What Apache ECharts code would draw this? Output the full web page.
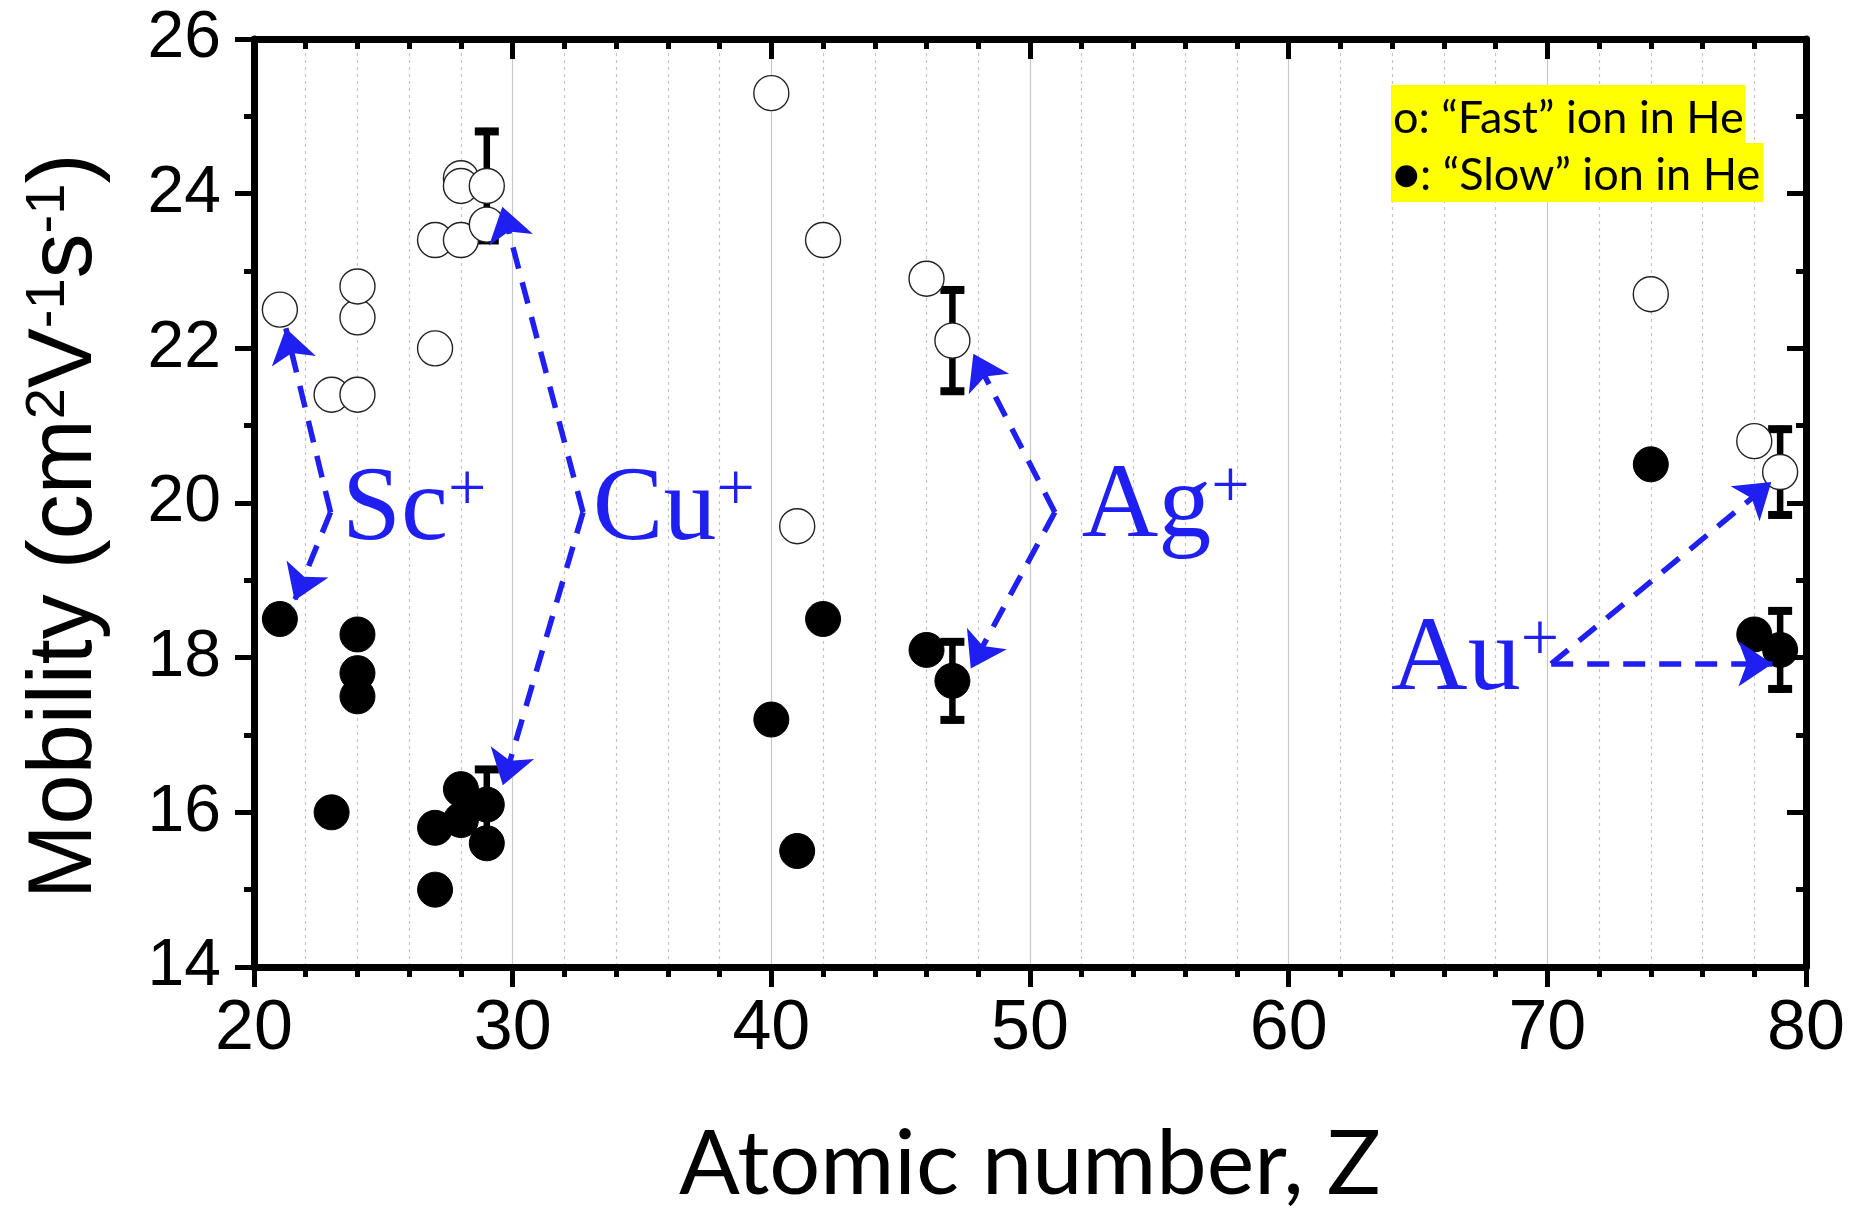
<!DOCTYPE html>
<html><head><meta charset="utf-8">
<script src="https://cdn.jsdelivr.net/npm/echarts@6/dist/echarts.min.js"></script>
<style>html,body{margin:0;padding:0;background:#fff}#c{width:1861px;height:1211px}</style>
</head><body><div id="c"></div>
<script>
// ---- data ----
const xTickValues = [20, 30, 40, 50, 60, 70, 80];
const yTickValues = [14, 16, 18, 20, 22, 24, 26];

// "Fast" ions (open circles)
const fastZ        = [21, 23, 24, 24, 24, 27, 27, 28, 28, 28, 29, 29, 40, 41, 42, 46, 47, 74, 78, 79];
const fastMobility = [22.5, 21.4, 21.4, 22.4, 22.8, 23.4, 22.0, 23.4, 24.2, 24.1, 23.6, 24.1, 25.3, 19.7, 23.4, 22.9, 22.1, 22.7, 20.8, 20.4];

// "Slow" ions (filled circles)
const slowZ        = [21, 23, 24, 24, 24, 27, 27, 28, 28, 29, 29, 40, 41, 42, 46, 47, 74, 78, 79];
const slowMobility = [18.5, 16.0, 18.3, 17.8, 17.5, 15.8, 15.0, 16.3, 15.9, 16.1, 15.6, 17.2, 15.5, 18.5, 18.1, 17.7, 20.5, 18.3, 18.1];

// error bars
const errZ      = [29, 47, 79, 29, 47, 79];
const errCenter = [24.1, 22.1, 20.4, 16.1, 17.7, 18.1];
const errHalf   = [0.75, 0.7, 0.6, 0.5, 0.55, 0.55];

// ion annotations
const ionLabels   = ['Sc', 'Cu', 'Ag', 'Au'];
const ionLabelZ   = [23.40, 33.10, 52.00, 63.96];
const ionLabelMob = [19.90, 19.90, 19.93, 17.95];
const arrowFrom = [[22.96, 19.88], [22.96, 19.88], [32.72, 19.88], [32.72, 19.88], [50.96, 19.88], [50.96, 19.88], [70.15, 17.92], [70.15, 17.92]];
const arrowTo   = [[21.23, 22.26], [21.57, 18.74], [29.60, 23.83], [29.62, 16.35], [47.81, 21.93], [47.71, 17.86], [78.66, 20.27], [78.70, 17.92]];

// ---- chart ----
const BLUE = '#1f1ff2';
const chart = echarts.init(document.getElementById('c'), null, {renderer: 'canvas'});

const xBase = {
  type: 'value', min: xTickValues[0], max: xTickValues[xTickValues.length - 1], interval: 10,
  axisLine: {show: true, onZero: false, lineStyle: {color: '#000', width: 7}},
  minorTick: {show: true, splitNumber: 5, length: 10, lineStyle: {color: '#000', width: 5}}
};
const yBase = {
  type: 'value', min: yTickValues[0], max: yTickValues[yTickValues.length - 1], interval: 2,
  axisLine: {show: true, onZero: false, lineStyle: {color: '#000', width: 7}},
  minorTick: {show: true, splitNumber: 2, length: 10, lineStyle: {color: '#000', width: 5}},
  splitLine: {show: false}
};
const SERIF = "'Liberation Serif', 'Times New Roman', Times, serif";

const option = {
  animation: false,
  backgroundColor: '#fff',
  grid: {left: 254, right: 55, top: 39, bottom: 244, containLabel: false, outerBoundsMode: 'none'},
  xAxis: [
    Object.assign({}, xBase, {
      position: 'bottom',
      name: 'Atomic number, Z', nameLocation: 'middle', nameGap: 153,
      nameTextStyle: {fontFamily: 'Lato', fontSize: 90, color: '#000'},
      axisTick: {show: true, inside: false, length: 20, lineStyle: {color: '#000', width: 5}},
      axisLabel: {show: true, fontFamily: 'Liberation Sans', fontSize: 70, color: '#000', margin: 28, showMinLabel: true, showMaxLabel: true},
      splitLine: {show: true, lineStyle: {color: '#c8c8c8', width: 1.2}},
      minorSplitLine: {show: true, lineStyle: {color: '#c4c4c4', width: 1.2, type: [3, 4]}}
    }),
    Object.assign({}, xBase, {
      position: 'top',
      axisTick: {show: true, inside: true, length: 20, lineStyle: {color: '#000', width: 5}},
      axisLabel: {show: false},
      splitLine: {show: false}
    })
  ],
  yAxis: [
    Object.assign({}, yBase, {
      position: 'left',
      name: '{n|Mobility (cm}{s|2}{n|V}{s|-1}{n|s}{s|-1}{n|)}',
      nameLocation: 'middle', nameGap: 143,
      nameTextStyle: {
        fontFamily: 'Liberation Sans', fontSize: 90, color: '#000',
        padding: [0, 47, 0, 0],
        rich: {
          n: {fontFamily: 'Liberation Sans', fontSize: 90, color: '#000', lineHeight: 90},
          s: {fontFamily: 'Liberation Sans', fontSize: 56, color: '#000', lineHeight: 51, verticalAlign: 'top'}
        }
      },
      axisTick: {show: true, inside: false, length: 19, lineStyle: {color: '#000', width: 5}},
      axisLabel: {show: true, fontFamily: 'Liberation Sans', fontSize: 66, color: '#000', margin: 33, showMinLabel: true, showMaxLabel: true}
    }),
    Object.assign({}, yBase, {
      position: 'right',
      axisTick: {show: true, inside: true, length: 19, lineStyle: {color: '#000', width: 5}},
      axisLabel: {show: false}
    })
  ],
  series: [
    {
      name: 'error bars', type: 'custom', xAxisIndex: 0, yAxisIndex: 0, z: 3,
      encode: {x: 0, y: [1, 2]},
      data: errZ.map((z, i) => [z, errCenter[i] - errHalf[i], errCenter[i] + errHalf[i]]),
      renderItem: function (params, api) {
        const x = api.value(0);
        const lo = api.coord([x, api.value(1)]);
        const hi = api.coord([x, api.value(2)]);
        const cw = 12;
        return {
          type: 'group',
          children: [
            {type: 'line', shape: {x1: lo[0], y1: lo[1], x2: hi[0], y2: hi[1]}, style: {stroke: '#000', lineWidth: 6.5}},
            {type: 'line', shape: {x1: lo[0] - cw, y1: lo[1] - 3.5, x2: lo[0] + cw, y2: lo[1] - 3.5}, style: {stroke: '#000', lineWidth: 8}},
            {type: 'line', shape: {x1: hi[0] - cw, y1: hi[1] + 3.5, x2: hi[0] + cw, y2: hi[1] + 3.5}, style: {stroke: '#000', lineWidth: 8}}
          ]
        };
      }
    },
    {
      name: 'Fast ion in He', type: 'scatter', xAxisIndex: 0, yAxisIndex: 0, z: 4,
      symbol: 'circle', symbolSize: 35,
      itemStyle: {color: '#fff', borderColor: '#222', borderWidth: 1.4, opacity: 1},
      data: fastZ.map((z, i) => [z, fastMobility[i]])
    },
    {
      name: 'Slow ion in He', type: 'scatter', xAxisIndex: 0, yAxisIndex: 0, z: 4,
      symbol: 'circle', symbolSize: 35,
      itemStyle: {color: '#000', borderColor: '#000', borderWidth: 1, opacity: 1},
      data: slowZ.map((z, i) => [z, slowMobility[i]])
    },
    {
      name: 'arrows', type: 'lines', coordinateSystem: 'cartesian2d', xAxisIndex: 0, yAxisIndex: 0, z: 5,
      symbol: ['none', 'arrow'], symbolSize: [0, 34],
      lineStyle: {color: BLUE, width: 5.5, type: [22, 14], opacity: 1, curveness: 0},
      data: arrowFrom.map((f, i) => ({coords: [f, arrowTo[i]]}))
    },
    {
      name: 'ion labels', type: 'scatter', xAxisIndex: 0, yAxisIndex: 0, z: 6,
      symbol: 'circle', symbolSize: 0, itemStyle: {color: 'rgba(0,0,0,0)'},
      silent: true,
      data: ionLabels.map((n, i) => ({name: n, value: [ionLabelZ[i], ionLabelMob[i]]})),
      label: {
        show: true, position: 'right', distance: 0, opacity: 1,
        formatter: p => '{m|' + p.name + '}{s|+}',
        rich: {
          m: {fontFamily: SERIF, fontSize: 106, color: BLUE, lineHeight: 106},
          s: {fontFamily: SERIF, fontSize: 68, color: BLUE, lineHeight: 58, verticalAlign: 'top'}
        }
      }
    }
  ],
  graphic: [
    {type: 'rect', left: 1391, top: 85, z: 20, shape: {width: 354, height: 58}, style: {fill: '#ffff00'}},
    {type: 'rect', left: 1391, top: 143, z: 20, shape: {width: 372, height: 59}, style: {fill: '#ffff00'}},
    {type: 'text', x: 1393, y: 118, z: 21, style: {text: 'o: \u201CFast\u201D ion in He', font: '45px Lato', fill: '#000', verticalAlign: 'middle'}},
    {type: 'text', x: 1393, y: 175, z: 21, style: {text: '\u25CF: \u201CSlow\u201D ion in He', font: '45px Lato', fill: '#000', verticalAlign: 'middle'}}
  ]
};
chart.setOption(option);
</script>
</body></html>
